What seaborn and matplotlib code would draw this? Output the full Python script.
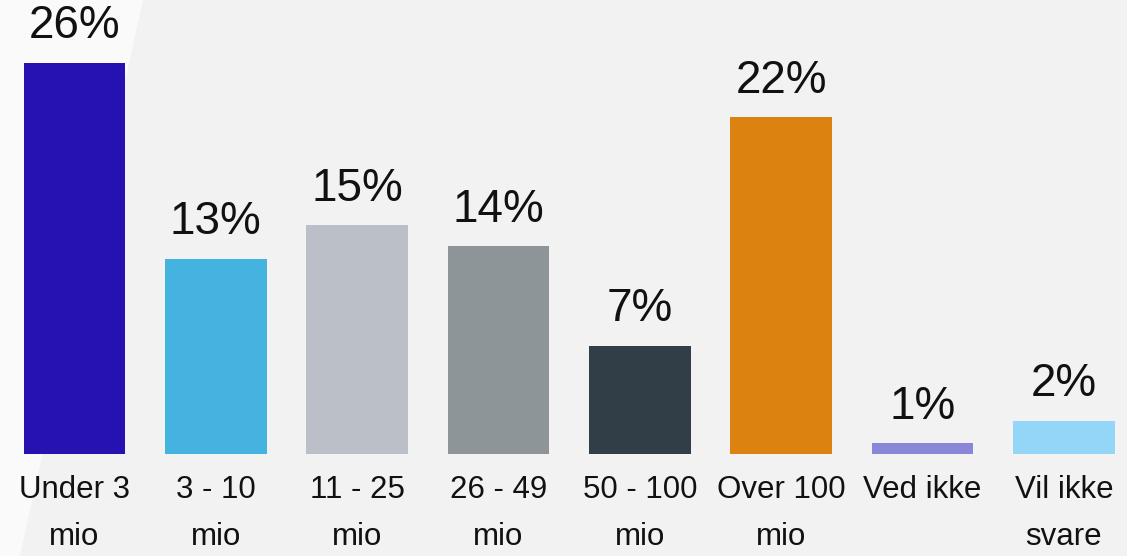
import matplotlib
matplotlib.use("Agg")
import matplotlib.pyplot as plt
from matplotlib.patches import Polygon
import seaborn as sns
import pandas as pd

categories = ["Under 3\nmio", "3 - 10\nmio", "11 - 25\nmio", "26 - 49\nmio",
              "50 - 100\nmio", "Over 100\nmio", "Ved ikke", "Vil ikke\nsvare"]
values = [26.0, 13.0, 15.2, 13.8, 7.2, 22.4, 0.7, 2.2]
labels = ["26%", "13%", "15%", "14%", "7%", "22%", "1%", "2%"]
colors = ["#2612b0", "#45b3e0", "#bbc0c8", "#8d9598", "#313d47",
          "#db8210", "#8a86d8", "#94d6f8"]

sns.set_theme(style="white")
plt.rcParams['font.family'] = ['Liberation Sans', 'DejaVu Sans']

fig = plt.figure(figsize=(11.27, 5.56), dpi=100)
fig.patch.set_facecolor("#f2f2f2")
# lighter wedge at left of background
fig.patches.append(Polygon([[0, 0], [0, 1], [143/1127, 1], [20/1127, 0]],
                           closed=True, transform=fig.transFigure,
                           facecolor="#fafafa", edgecolor="none", zorder=-10))

ax = fig.add_axes([0, 102/556, 1, 454/556])
ax.set_facecolor("none")
ax.set_zorder(5)

df = pd.DataFrame({"cat": categories, "val": values})
sns.barplot(data=df, x="cat", y="val", hue="cat", palette=colors,
            width=0.72, legend=False, ax=ax, saturation=1, linewidth=0)

for p, lab in zip(ax.patches, labels):
    ax.annotate(lab, (p.get_x() + p.get_width() / 2, p.get_height()),
                xytext=(0, 10.5), textcoords="offset points",
                ha="center", va="bottom", fontsize=33, color="#111111")

ax.set_xlim(-0.527, 7.446)
ax.set_ylim(0, 30.19)
ax.set_xlabel("")
ax.set_ylabel("")
ax.set_yticks([])
ax.tick_params(axis="x", length=0, pad=15, labelsize=22.5, labelcolor="#111111")
for lbl in ax.get_xticklabels():
    lbl.set_linespacing(1.75)
for s in ax.spines.values():
    s.set_visible(False)

fig.savefig("out.png", dpi=100, facecolor=fig.get_facecolor())
